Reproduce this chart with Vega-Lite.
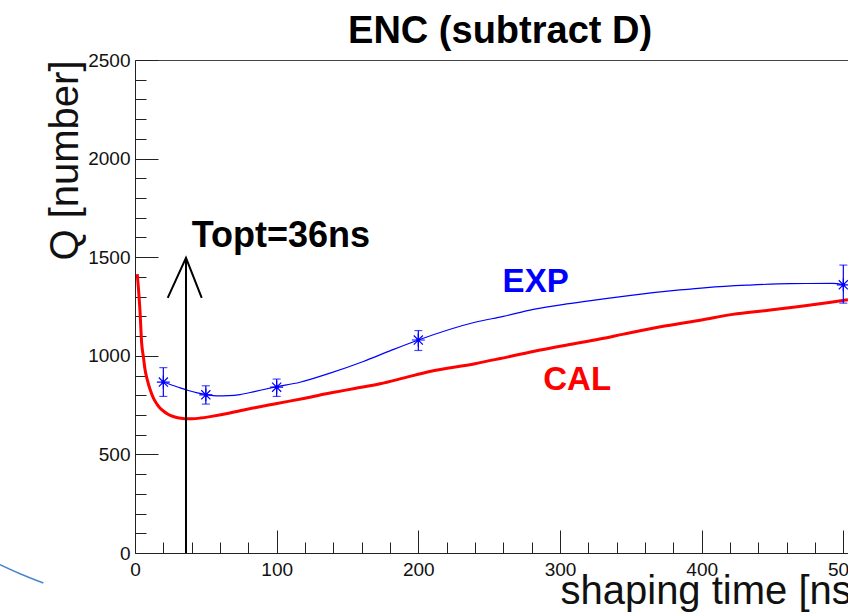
{
  "$schema": "https://vega.github.io/schema/vega-lite/v6.json",
  "autosize": {"type": "none"},
  "width": 713,
  "height": 493,
  "padding": {"left": 135, "top": 60, "right": 0, "bottom": 62},
  "background": "white",
  "config": {
    "view": {"stroke": null},
    "font": "Liberation Sans",
    "axis": {"grid": false, "domainColor": "#222", "tickColor": "#222", "tickWidth": 1, "domainWidth": 1}
  },
  "datasets": {
    "cal": [
      {"t": 1.6, "q": 1414}, {"t": 3.5, "q": 1230}, {"t": 4.7, "q": 1064}, {"t": 5.9, "q": 996},
      {"t": 7.1, "q": 929}, {"t": 8.6, "q": 880}, {"t": 10.6, "q": 830}, {"t": 13, "q": 785},
      {"t": 15.5, "q": 755}, {"t": 17.6, "q": 735}, {"t": 20, "q": 720}, {"t": 23, "q": 705},
      {"t": 27, "q": 692}, {"t": 31, "q": 685}, {"t": 35.3, "q": 681}, {"t": 40, "q": 681},
      {"t": 46, "q": 684}, {"t": 55, "q": 694}, {"t": 67, "q": 710}, {"t": 80, "q": 730},
      {"t": 99.3, "q": 757}, {"t": 120, "q": 785}, {"t": 137.7, "q": 811}, {"t": 155, "q": 834},
      {"t": 173, "q": 858}, {"t": 190, "q": 888}, {"t": 208, "q": 920}, {"t": 240, "q": 960},
      {"t": 257, "q": 985}, {"t": 281, "q": 1022}, {"t": 305, "q": 1055}, {"t": 328, "q": 1085},
      {"t": 345, "q": 1110}, {"t": 375, "q": 1152}, {"t": 400, "q": 1182}, {"t": 422, "q": 1210},
      {"t": 446, "q": 1230}, {"t": 469, "q": 1250}, {"t": 490, "q": 1270}, {"t": 503.3, "q": 1284}
    ],
    "expfit": [
      {"t": 20, "q": 867}, {"t": 30, "q": 842}, {"t": 37.6, "q": 824}, {"t": 44, "q": 812},
      {"t": 50, "q": 804}, {"t": 57.7, "q": 797}, {"t": 66, "q": 798}, {"t": 74, "q": 803},
      {"t": 85, "q": 820}, {"t": 99.3, "q": 842}, {"t": 116.5, "q": 866}, {"t": 137.7, "q": 912},
      {"t": 161.2, "q": 971}, {"t": 180, "q": 1025}, {"t": 200, "q": 1080}, {"t": 240, "q": 1170},
      {"t": 260, "q": 1200}, {"t": 281.2, "q": 1235}, {"t": 304.8, "q": 1263}, {"t": 328.3, "q": 1286},
      {"t": 351.5, "q": 1308}, {"t": 384.7, "q": 1334}, {"t": 403.6, "q": 1346}, {"t": 431.8, "q": 1358},
      {"t": 462.4, "q": 1366}, {"t": 492.7, "q": 1367}, {"t": 500, "q": 1360}
    ],
    "exp": [
      {"t": 20, "q": 867, "lo": 794, "hi": 940},
      {"t": 50, "q": 802, "lo": 755, "hi": 848},
      {"t": 100, "q": 841, "lo": 794, "hi": 882},
      {"t": 200, "q": 1080, "lo": 1027, "hi": 1128},
      {"t": 500, "q": 1360, "lo": 1267, "hi": 1460}
    ],
    "arrow": [
      {"seg": "shaft", "i": 0, "t": 36, "q": 0},
      {"seg": "shaft", "i": 1, "t": 36, "q": 1497},
      {"seg": "head", "i": 0, "t": 23.1, "q": 1294},
      {"seg": "head", "i": 1, "t": 36, "q": 1497},
      {"seg": "head", "i": 2, "t": 47.1, "q": 1294}
    ],
    "arc": [
      {"i": 0, "t": -95.3, "q": -59},
      {"i": 1, "t": -81.2, "q": -105},
      {"i": 2, "t": -64.7, "q": -152}
    ]
  },
  "layer": [
    {
      "data": {"name": "cal"},
      "mark": {"type": "line", "color": "#ff0000", "strokeWidth": 3, "interpolate": "monotone"},
      "encoding": {
        "x": {
          "field": "t", "type": "quantitative",
          "scale": {"domain": [0, 503.3], "nice": false, "zero": false},
          "axis": {
            "orient": "bottom",
            "values": [0, 100, 200, 300, 400, 500],
            "format": "d",
            "tickSize": -23,
            "labelFontSize": 19,
            "labelColor": "#111",
            "labelFont": "Liberation Sans",
            "labelPadding": 30,
            "labelFlush": false,
            "labelOverlap": false,
            "title": "shaping time [ns]",
            "titleFont": "Liberation Sans",
            "titleFontSize": 40,
            "titleFontWeight": "normal",
            "titleColor": "#111",
            "titleX": 425,
            "titleY": 50,
            "titleAlign": "left",
            "titleAnchor": "start",
            "titleBaseline": "alphabetic"
          }
        },
        "y": {
          "field": "q", "type": "quantitative",
          "scale": {"domain": [0, 2500], "nice": false, "zero": false},
          "axis": {
            "orient": "left",
            "values": [0, 500, 1000, 1500, 2000, 2500],
            "format": "d",
            "tickSize": -23,
            "labelFontSize": 19,
            "labelColor": "#111",
            "labelFont": "Liberation Sans",
            "labelPadding": 28,
            "labelFlush": false,
            "labelOverlap": false,
            "title": "Q [number]",
            "titleFont": "Liberation Sans",
            "titleFontSize": 40,
            "titleFontWeight": "normal",
            "titleColor": "#111",
            "titleAngle": -90,
            "titleX": -58,
            "titleY": 0,
            "titleAlign": "right",
            "titleAnchor": "end",
            "titleBaseline": "alphabetic"
          }
        }
      }
    },
    {
      "data": {"name": "expfit"},
      "mark": {"type": "line", "color": "#0000ff", "strokeWidth": 1.2, "interpolate": "monotone"},
      "encoding": {
        "x": {"field": "t", "type": "quantitative",
          "axis": {"orient": "bottom", "values": [20,40,60,80,120,140,160,180,220,240,260,280,320,340,360,380,420,440,460,480],
                   "tickSize": -11, "labels": false, "domain": false, "title": null}},
        "y": {"field": "q", "type": "quantitative",
          "axis": {"orient": "left", "values": [100,200,300,400,600,700,800,900,1100,1200,1300,1400,1600,1700,1800,1900,2100,2200,2300,2400],
                   "tickSize": -11, "labels": false, "domain": false, "title": null}}
      }
    },
    {
      "data": {"name": "exp"},
      "mark": {"type": "rule", "color": "#0000ff", "strokeWidth": 1.2},
      "encoding": {
        "x": {"field": "t", "type": "quantitative",
          "axis": {"orient": "top", "labels": false, "ticks": false, "title": null, "domain": true, "domainColor": "#444"}},
        "y": {"field": "lo", "type": "quantitative", "axis": null},
        "y2": {"field": "hi"}
      }
    },
    {
      "data": {"name": "exp"},
      "mark": {"type": "tick", "orient": "horizontal", "color": "#0000ff", "size": 8, "thickness": 1.2},
      "encoding": {
        "x": {"field": "t", "type": "quantitative", "axis": null},
        "y": {"field": "lo", "type": "quantitative", "axis": null}
      }
    },
    {
      "data": {"name": "exp"},
      "mark": {"type": "tick", "orient": "horizontal", "color": "#0000ff", "size": 8, "thickness": 1.2},
      "encoding": {
        "x": {"field": "t", "type": "quantitative", "axis": null},
        "y": {"field": "hi", "type": "quantitative", "axis": null}
      }
    },
    {
      "data": {"name": "exp"},
      "mark": {"type": "point", "shape": "M-1,0L1,0M0,-1L0,1M-0.7,-0.7L0.7,0.7M-0.7,0.7L0.7,-0.7", "filled": false, "stroke": "#0000ff", "strokeWidth": 1.2, "size": 169, "opacity": 1},
      "encoding": {
        "x": {"field": "t", "type": "quantitative", "axis": null},
        "y": {"field": "q", "type": "quantitative", "axis": null}
      }
    },
    {
      "data": {"name": "exp"},
      "mark": {"type": "point", "shape": "circle", "filled": true, "color": "#0000ff", "size": 14, "opacity": 1},
      "encoding": {
        "x": {"field": "t", "type": "quantitative", "axis": null},
        "y": {"field": "q", "type": "quantitative", "axis": null}
      }
    },
    {
      "data": {"name": "arrow"},
      "mark": {"type": "line", "color": "black", "strokeWidth": 2},
      "encoding": {
        "x": {"field": "t", "type": "quantitative", "axis": null},
        "y": {"field": "q", "type": "quantitative", "axis": null},
        "detail": {"field": "seg"},
        "order": {"field": "i", "type": "quantitative"}
      }
    },
    {
      "data": {"name": "arc"},
      "mark": {"type": "line", "color": "#4a86c8", "strokeWidth": 1.5, "interpolate": "monotone", "clip": false},
      "encoding": {
        "x": {"field": "t", "type": "quantitative", "axis": null},
        "y": {"field": "q", "type": "quantitative", "axis": null},
        "order": {"field": "i", "type": "quantitative"}
      }
    },
    {
      "data": {"values": [{"t": 257.7, "q": 2586, "label": "ENC (subtract D)"}]},
      "mark": {"type": "text", "align": "center", "baseline": "alphabetic", "font": "Liberation Sans", "fontWeight": "bold", "fontSize": 38, "color": "black", "clip": false},
      "encoding": {
        "x": {"field": "t", "type": "quantitative", "axis": null},
        "y": {"field": "q", "type": "quantitative", "axis": null},
        "text": {"field": "label"}
      }
    },
    {
      "data": {"values": [{"t": 40, "q": 1554, "label": "Topt=36ns"}]},
      "mark": {"type": "text", "align": "left", "baseline": "alphabetic", "font": "Liberation Sans", "fontWeight": "bold", "fontSize": 36, "color": "black"},
      "encoding": {
        "x": {"field": "t", "type": "quantitative", "axis": null},
        "y": {"field": "q", "type": "quantitative", "axis": null},
        "text": {"field": "label"}
      }
    },
    {
      "data": {"values": [{"t": 259.5, "q": 1326, "label": "EXP"}]},
      "mark": {"type": "text", "align": "left", "baseline": "alphabetic", "font": "Liberation Sans", "fontWeight": "bold", "fontSize": 33, "color": "#0000ff"},
      "encoding": {
        "x": {"field": "t", "type": "quantitative", "axis": null},
        "y": {"field": "q", "type": "quantitative", "axis": null},
        "text": {"field": "label"}
      }
    },
    {
      "data": {"values": [{"t": 288.2, "q": 828, "label": "CAL"}]},
      "mark": {"type": "text", "align": "left", "baseline": "alphabetic", "font": "Liberation Sans", "fontWeight": "bold", "fontSize": 33, "color": "#ff0000"},
      "encoding": {
        "x": {"field": "t", "type": "quantitative", "axis": null},
        "y": {"field": "q", "type": "quantitative", "axis": null},
        "text": {"field": "label"}
      }
    }
  ],
  "resolve": {"axis": {"x": "independent", "y": "independent"}}
}
